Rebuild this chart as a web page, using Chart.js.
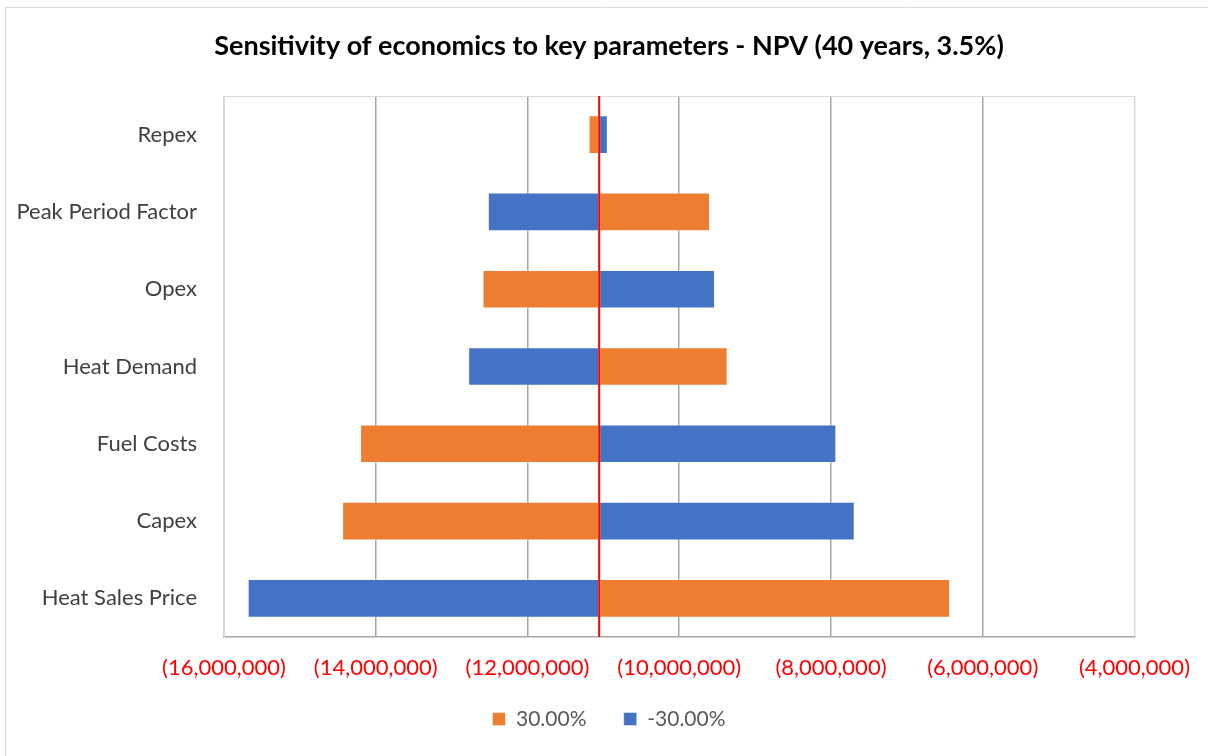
<!DOCTYPE html>
<html>
<head>
<meta charset="utf-8">
<title>NPV sensitivity</title>
<script src="https://cdn.jsdelivr.net/npm/chart.js@4.4.1/dist/chart.umd.min.js"></script>
<style>
    html, body { margin: 0; padding: 0; background: #fff; }
    #wrap { width: 1208px; height: 756px; }
</style>
</head>
<body>
<div id="wrap"><canvas id="npvChart" width="1208" height="756"></canvas></div>
<script>
// Parameters tested, top to bottom
const parameters = ['Repex', 'Peak Period Factor', 'Opex', 'Heat Demand', 'Fuel Costs', 'Capex', 'Heat Sales Price'];

// Base case NPV (red line) and NPV with each parameter moved +/-30%
const baseNpv = -11055000;
const npvPlus30 = [-11195000, -9594000, -12593000, -9363000, -14206000, -14443000, -6430000];
const npvMinus30 = [-10941000, -12523000, -9528000, -12782000, -7929000, -7687000, -15688000];
const seriesLabels = ['30.00%', '-30.00%'];

// x axis range and tick step
const axisMin = -16000000;
const axisMax = -4000000;
const axisStep = 2000000;

const FONT = 'Lato, "Liberation Sans", Arial, sans-serif';

document.addEventListener('DOMContentLoaded', function () {
    initializeChart();
});

function formatNpv(value) {
    const txt = Math.abs(value).toLocaleString('en-US');
    return value < 0 ? '(' + txt + ')' : txt;
}

// frame, plot border and the base case line
const decorations = {
    id: 'decorations',
    beforeDraw(chart) {
        const ctx = chart.ctx;
        ctx.save();
        ctx.fillStyle = '#ffffff';
        ctx.fillRect(0, 0, chart.width, chart.height);
        ctx.strokeStyle = '#d9d9d9';
        ctx.lineWidth = 1;
        ctx.beginPath();
        ctx.moveTo(5.5, chart.height);
        ctx.lineTo(5.5, 7.5);
        ctx.lineTo(chart.width, 7.5);
        ctx.stroke();
        ctx.restore();
    },
    beforeDatasetsDraw(chart) {
        const a = chart.chartArea;
        const ctx = chart.ctx;
        ctx.save();
        ctx.strokeStyle = '#d9d9d9';
        ctx.lineWidth = 1;
        ctx.beginPath();
        ctx.moveTo(a.left, a.top + 0.5);
        ctx.lineTo(a.right, a.top + 0.5);
        ctx.stroke();
        ctx.restore();
    },
    afterDatasetsDraw(chart) {
        const a = chart.chartArea;
        const x = chart.scales.x.getPixelForValue(baseNpv);
        const ctx = chart.ctx;
        ctx.save();
        ctx.strokeStyle = '#ff0000';
        ctx.lineWidth = 2;
        ctx.beginPath();
        ctx.moveTo(x, a.top);
        ctx.lineTo(x, a.bottom);
        ctx.stroke();
        ctx.restore();
    }
};

function initializeChart() {
    const ctx = document.getElementById('npvChart').getContext('2d');

    new Chart(ctx, {
        type: 'bar',
        data: {
            labels: parameters,
            datasets: [
                {
                    label: seriesLabels[0],
                    data: npvPlus30.map(v => [baseNpv, v]),
                    backgroundColor: '#ed7d31',
                    borderColor: 'rgba(255, 255, 255, 0.45)',
                    borderWidth: 1,
                    borderSkipped: false
                },
                {
                    label: seriesLabels[1],
                    data: npvMinus30.map(v => [baseNpv, v]),
                    backgroundColor: '#4472c4',
                    borderColor: 'rgba(255, 255, 255, 0.45)',
                    borderWidth: 1,
                    borderSkipped: false
                }
            ]
        },
        options: {
            indexAxis: 'y',
            responsive: false,
            animation: false,
            devicePixelRatio: 1,
            grouped: false,
            barPercentage: 0.5,
            categoryPercentage: 1,
            layout: {
                padding: { left: 10, right: 0, top: 0, bottom: 16.5 }
            },
            plugins: {
                title: {
                    display: true,
                    text: 'Sensitivity of economics to key parameters - NPV (40 years, 3.5%)',
                    color: '#000000',
                    font: { family: FONT, size: 27, weight: 'bold' },
                    padding: { top: 30, bottom: 33.6 }
                },
                legend: {
                    position: 'bottom',
                    labels: {
                        color: '#595959',
                        font: { family: FONT, size: 21 },
                        boxWidth: 13,
                        boxHeight: 13,
                        padding: 26.5,
                        generateLabels: chart => {
                            const items = Chart.defaults.plugins.legend.labels.generateLabels(chart);
                            // a little extra room after the first entry
                            items[0].text += '\u00a0\u00a0';
                            return items;
                        }
                    }
                },
                tooltip: { enabled: false }
            },
            scales: {
                x: {
                    type: 'linear',
                    min: axisMin,
                    max: axisMax,
                    ticks: {
                        stepSize: axisStep,
                        color: '#ff0000',
                        font: { family: FONT, size: 22 },
                        padding: 18,
                        callback: value => formatNpv(value)
                    },
                    grid: {
                        drawTicks: false,
                        lineWidth: 1.5,
                        color: c => (c.tick && (c.tick.value === axisMin || c.tick.value === axisMax)) ? '#d9d9d9' : '#a6a6a6'
                    },
                    border: { color: '#a6a6a6', width: 1.5 },
                    afterFit: s => { s.height = 45; }
                },
                y: {
                    type: 'category',
                    grid: { display: false, drawTicks: false },
                    border: { color: '#d9d9d9', width: 1 },
                    ticks: {
                        color: '#404040',
                        font: { family: FONT, size: 22 },
                        padding: 27
                    },
                    afterFit: s => { s.width = 214; }
                },
                yRight: {
                    type: 'category',
                    axis: 'y',
                    position: 'right',
                    grid: { display: false, drawTicks: false },
                    border: { display: false },
                    ticks: { display: false },
                    afterFit: s => { s.width = 71; }
                }
            }
        },
        plugins: [decorations]
    });
}
</script>
</body>
</html>
